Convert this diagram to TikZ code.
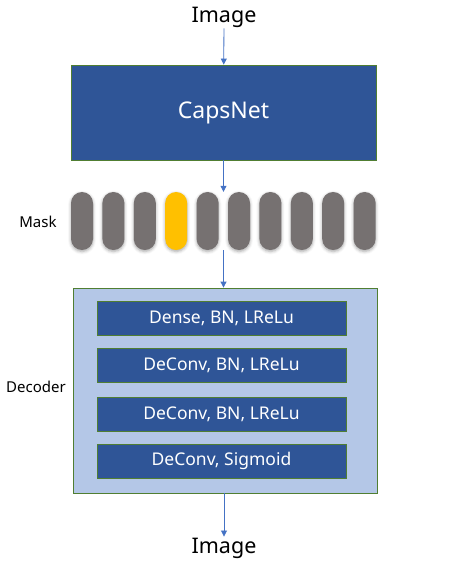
\documentclass[tikz,border=0pt]{standalone}
\usepackage{fontspec}
\setmainfont{Noto Sans}
\usetikzlibrary{arrows.meta,shadows.blur}

\definecolor{capsblue}{HTML}{2F5597}
\definecolor{edgegreen}{HTML}{507E32}
\definecolor{declight}{HTML}{B4C7E7}
\definecolor{arrowblue}{HTML}{4472C4}
\definecolor{capsgray}{HTML}{767171}
\definecolor{capsgold}{HTML}{FFC000}

\tikzset{
    block/.style={draw=edgegreen, line width=0.8pt, fill=capsblue, text=white, inner sep=0pt},
    layer/.style={block, minimum width=249pt, minimum height=34pt, font=\fontsize{17.5}{20}\selectfont},
    capsule/.style={rounded corners=11pt, minimum width=22pt, minimum height=58pt, inner sep=0pt,
        blur shadow={shadow xshift=0pt, shadow yshift=-1.5pt, shadow blur radius=3pt, shadow opacity=35}},
    label/.style={font=\fontsize{15}{18}\selectfont},
    title/.style={font=\fontsize{21.5}{25}\selectfont, inner sep=1pt},
    flow/.style={draw=arrowblue, line width=0.8pt, -{Triangle[length=6pt,width=6pt]}},
}

\begin{document}
\begin{tikzpicture}[x=1pt, y=-1pt]
    \useasboundingbox (0,0) rectangle (456,564);

    % encoder
    \node[title] (imgin) at (224,17) {Image};
    \node[block, minimum width=305pt, minimum height=95pt, font=\fontsize{23}{27}\selectfont] (caps) at (223.5,112.5) {CapsNet};

    % mask
    \node[label] (masklabel) at (38,222) {Mask};
    \foreach \i/\c in {1/capsgray,2/capsgray,3/capsgray,4/capsgold,5/capsgray,
                       6/capsgray,7/capsgray,8/capsgray,9/capsgray,10/capsgray} {
        \pgfmathsetmacro\cx{82+31.4*(\i-1)}
        \node[capsule, fill=\c] (mask\i) at (\cx,221) {};
    }

    % decoder
    \node[draw=edgegreen, line width=0.8pt, fill=declight, minimum width=304pt, minimum height=205pt] (decoder) at (225,390.5) {};
    \node[label] (declabel) at (36,387) {Decoder};
    \node[layer] (layer1) at (221.5,318) {Dense, BN, LReLu};
    \node[layer] (layer2) at (221.5,365.5) {DeConv, BN, LReLu};
    \node[layer] (layer3) at (221.5,414) {DeConv, BN, LReLu};
    \node[layer] (layer4) at (221.5,461) {DeConv, Sigmoid};
    \node[title] (imgout) at (224,548) {Image};

    % arrows
    \draw[flow] (imgin) -- (caps);
    \draw[flow] (caps.south) -- (caps.south |- mask1.north);
    \draw[flow] (caps.south |- mask1.south) -- (caps.south |- decoder.north);
    \draw[flow] (decoder.south -| imgout) -- (imgout);
\end{tikzpicture}
\end{document}
